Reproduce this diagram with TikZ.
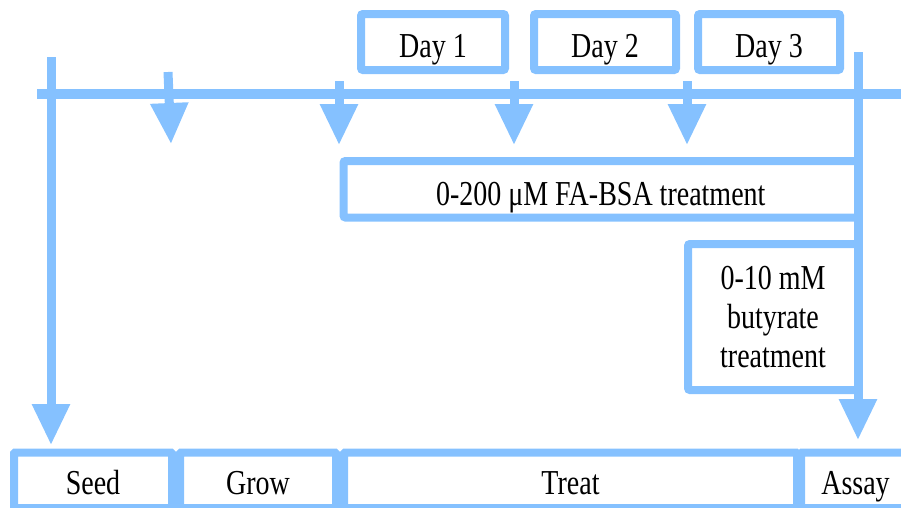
\documentclass[tikz,border=0pt]{standalone}
\usepackage{fontspec}
\setmainfont{Liberation Serif}[FakeStretch=0.8]
\usetikzlibrary{arrows.meta}
\definecolor{lb}{RGB}{133,193,255}
\begin{document}
\begin{tikzpicture}[x=1pt,y=-1pt,
  box/.style={draw=lb, line width=8pt, rounded corners=2pt, inner sep=0pt,
    font=\fontsize{35}{39}\selectfont, text depth=0pt},
  tline/.style={draw=lb, line width=10pt},
  arr/.style={draw=lb, line width=9pt, -{Triangle[width=36pt,length=41pt]}}]
\useasboundingbox (0,0) rectangle (901,507);
\begin{scope}
\clip (0,0) rectangle (901,507);
% timeline
\coordinate (tl0) at (37,94);
\coordinate (tl1) at (905,94);
\draw[tline] (tl0) -- (tl1);
% day boxes
\node[box, minimum width=144pt, minimum height=56pt, text height=30pt] (d1) at (433,42) {Day 1};
\node[box, minimum width=142pt, minimum height=56pt, text height=30pt] (d2) at (605,42) {Day 2};
\node[box, minimum width=142pt, minimum height=56pt, text height=30pt] (d3) at (769,42) {Day 3};
% treatment boxes
\node[box, minimum width=514.5pt, minimum height=56.5pt, text height=32pt] (fa) at (600.75,189.25) {0-200 μM FA-BSA treatment};
\node[box, minimum width=170pt, minimum height=146pt, align=center, text depth=] (bu) at (773,317) {0-10 mM\\butyrate\\treatment};
% bottom phase boxes
\node[box, rounded corners=1pt, minimum width=158pt, minimum height=55.5pt, text height=28pt] (seed) at (93,480.25) {Seed};
\node[box, rounded corners=1pt, minimum width=156pt, minimum height=55.5pt, text height=28pt] (grow) at (258,480.25) {Grow};
\node[box, rounded corners=1pt, minimum width=453pt, minimum height=55.5pt, text height=28pt] (treat) at (570.5,480.25) {Treat};
\node[box, rounded corners=1pt, minimum width=109pt, minimum height=55.5pt, text height=28pt] (assay) at (855.5,480.25) {Assay};
% arrows
\coordinate (a1s) at (51,57);
\coordinate (a1e) at (51,445);
\coordinate (a2s) at (168,72);
\coordinate (a2e) at (171,144);
\coordinate (a3s) at (339,81);
\coordinate (a3e) at (339,145);
\coordinate (a4s) at (514,81);
\coordinate (a4e) at (514,145);
\coordinate (a5s) at (687,81);
\coordinate (a5e) at (687,145);
\coordinate (a6s) at (858,52);
\coordinate (a6e) at (858,440);
\draw[arr] (a1s) -- (a1e);
\draw[arr] (a2s) -- (a2e);
\draw[arr] (a3s) -- (a3e);
\draw[arr] (a4s) -- (a4e);
\draw[arr] (a5s) -- (a5e);
\draw[arr] (a6s) -- (a6e);
\end{scope}
\end{tikzpicture}
\end{document}
